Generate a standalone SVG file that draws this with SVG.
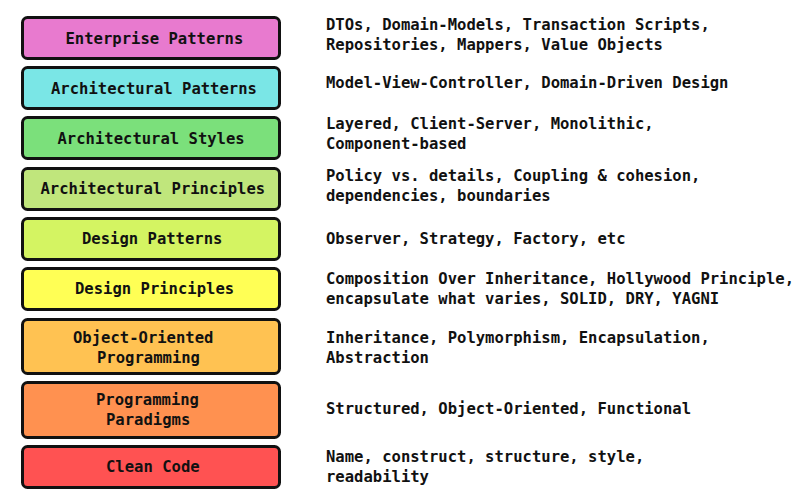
<svg xmlns="http://www.w3.org/2000/svg" width="800" height="500" viewBox="0 0 800 500">
<style>
  .box { stroke: #111; stroke-width: 3; }
  .t { font-family: "DejaVu Sans Mono", "Liberation Mono", monospace; font-size: 15.55px; font-weight: bold; fill: #111; }
</style>
<rect x="0" y="0" width="800" height="500" fill="#ffffff"/>
<g id="enterprise-patterns">
  <rect class="box" x="22.5" y="17.5" width="257" height="41" rx="5" fill="#E87ACF"/>
  <text class="t" x="65.5" y="44">Enterprise Patterns</text>
  <text class="t" x="326" y="30">DTOs, Domain-Models, Transaction Scripts,</text>
  <text class="t" x="326" y="50">Repositories, Mappers, Value Objects</text>
</g>
<g id="architectural-patterns">
  <rect class="box" x="22.5" y="67.5" width="257" height="41" rx="5" fill="#7AE6E6"/>
  <text class="t" x="51" y="94">Architectural Patterns</text>
  <text class="t" x="326" y="88">Model-View-Controller, Domain-Driven Design</text>
</g>
<g id="architectural-styles">
  <rect class="box" x="22.5" y="117.5" width="257" height="41" rx="5" fill="#7BE07B"/>
  <text class="t" x="57.5" y="144">Architectural Styles</text>
  <text class="t" x="326" y="129">Layered, Client-Server, Monolithic,</text>
  <text class="t" x="326" y="149">Component-based</text>
</g>
<g id="architectural-principles">
  <rect class="box" x="22.5" y="168.5" width="257" height="41" rx="5" fill="#C0E67C"/>
  <text class="t" x="40.5" y="194">Architectural Principles</text>
  <text class="t" x="326" y="181">Policy vs. details, Coupling &amp; cohesion,</text>
  <text class="t" x="326" y="201">dependencies, boundaries</text>
</g>
<g id="design-patterns">
  <rect class="box" x="22.5" y="218.5" width="257" height="41" rx="5" fill="#D4F462"/>
  <text class="t" x="82" y="244">Design Patterns</text>
  <text class="t" x="326" y="244">Observer, Strategy, Factory, etc</text>
</g>
<g id="design-principles">
  <rect class="box" x="22.5" y="268.5" width="257" height="41" rx="5" fill="#FFFF55"/>
  <text class="t" x="75" y="294">Design Principles</text>
  <text class="t" x="326" y="284">Composition Over Inheritance, Hollywood Principle,</text>
  <text class="t" x="326" y="304">encapsulate what varies, SOLID, DRY, YAGNI</text>
</g>
<g id="object-oriented-programming">
  <rect class="box" x="22.5" y="319.5" width="257" height="54" rx="5" fill="#FFC252"/>
  <text class="t" x="73" y="343">Object-Oriented</text>
  <text class="t" x="97" y="363">Programming</text>
  <text class="t" x="326" y="343">Inheritance, Polymorphism, Encapsulation,</text>
  <text class="t" x="326" y="363">Abstraction</text>
</g>
<g id="programming-paradigms">
  <rect class="box" x="22.5" y="382.5" width="257" height="55" rx="5" fill="#FF9150"/>
  <text class="t" x="96" y="405">Programming</text>
  <text class="t" x="106" y="425">Paradigms</text>
  <text class="t" x="326" y="414">Structured, Object-Oriented, Functional</text>
</g>
<g id="clean-code">
  <rect class="box" x="22.5" y="446.5" width="257" height="41" rx="5" fill="#FF5252"/>
  <text class="t" x="106" y="472">Clean Code</text>
  <text class="t" x="326" y="462">Name, construct, structure, style,</text>
  <text class="t" x="326" y="482">readability</text>
</g>
<g id="connectors"></g>
</svg>
